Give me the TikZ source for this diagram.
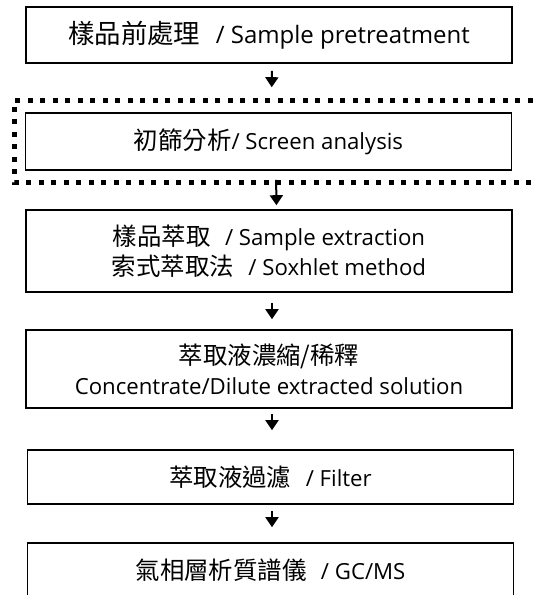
\documentclass[tikz,border=0pt]{standalone}
\usepackage{fontspec}
\setmainfont{Open Sans}
\newfontfamily\cjkfont[Scale=1.1]{Noto Sans CJK TC}
\usepackage{tikz}
\usetikzlibrary{arrows.meta}
\newcommand{\zh}[1]{{\cjkfont #1}}
\newcommand{\gap}{\hspace{0.65em}}
\tikzset{
  stepbox/.style={draw, line width=1.6pt, minimum width=486pt, align=center,
    font=\fontsize{22.2}{30}\selectfont, inner sep=0pt},
  flow/.style={line width=2pt, -{Triangle[width=13pt,length=10pt]}},
  dotframe/.style={line width=5pt, dash pattern=on 5pt off 7.5pt}
}
\begin{document}
\begin{tikzpicture}[x=1pt,y=-1pt]
      \useasboundingbox (0,0) rectangle (533,595);
      \clip (0,0) rectangle (533,595);
      \node[stepbox, minimum height=56pt, font=\fontsize{24}{30}\selectfont] (pre) at (269,35) {\zh{樣品前處理}\gap/ Sample pretreatment};
      \node[stepbox, minimum height=57pt] (screen) at (268.5,141.5) {\zh{初篩分析}/ Screen analysis};
      \node[stepbox, minimum height=82pt] (extract) at (269,251) {\zh{樣品萃取}\gap/ Sample extraction\\ \zh{索式萃取法}\gap/ Soxhlet method};
      \node[stepbox, minimum height=78pt] (conc) at (269,369) {\zh{萃取液濃縮/稀釋}\\ Concentrate/Dilute extracted solution};
      \node[stepbox, minimum height=54pt] (filter) at (270.5,477) {\zh{萃取液過濾}\gap/ Filter};
      \node[stepbox, minimum height=54pt] (gcms) at (270.5,570) {\zh{氣相層析質譜儀}\gap/ GC/MS};
      \draw[dotframe] (545,100) -- (14,100) -- (14,182) -- (545,182);
      \draw[flow, shorten <=7pt, shorten >=25pt] ([xshift=3pt]pre.south) -- ([xshift=3pt]screen.north);
      \draw[flow, shorten <=9pt, shorten >=4pt] ([xshift=7.5pt]screen.south) -- ([xshift=7.5pt]extract.north);
      \draw[flow, shorten <=10pt, shorten >=10pt] ([xshift=3pt]extract.south) -- ([xshift=3pt]conc.north);
      \draw[flow, shorten <=5pt, shorten >=19pt] ([xshift=3pt]conc.south) -- ([xshift=1.5pt]filter.north);
      \draw[flow, shorten <=6pt, shorten >=15pt] ([xshift=1.5pt]filter.south) -- ([xshift=1.5pt]gcms.north);
\end{tikzpicture}
\end{document}
